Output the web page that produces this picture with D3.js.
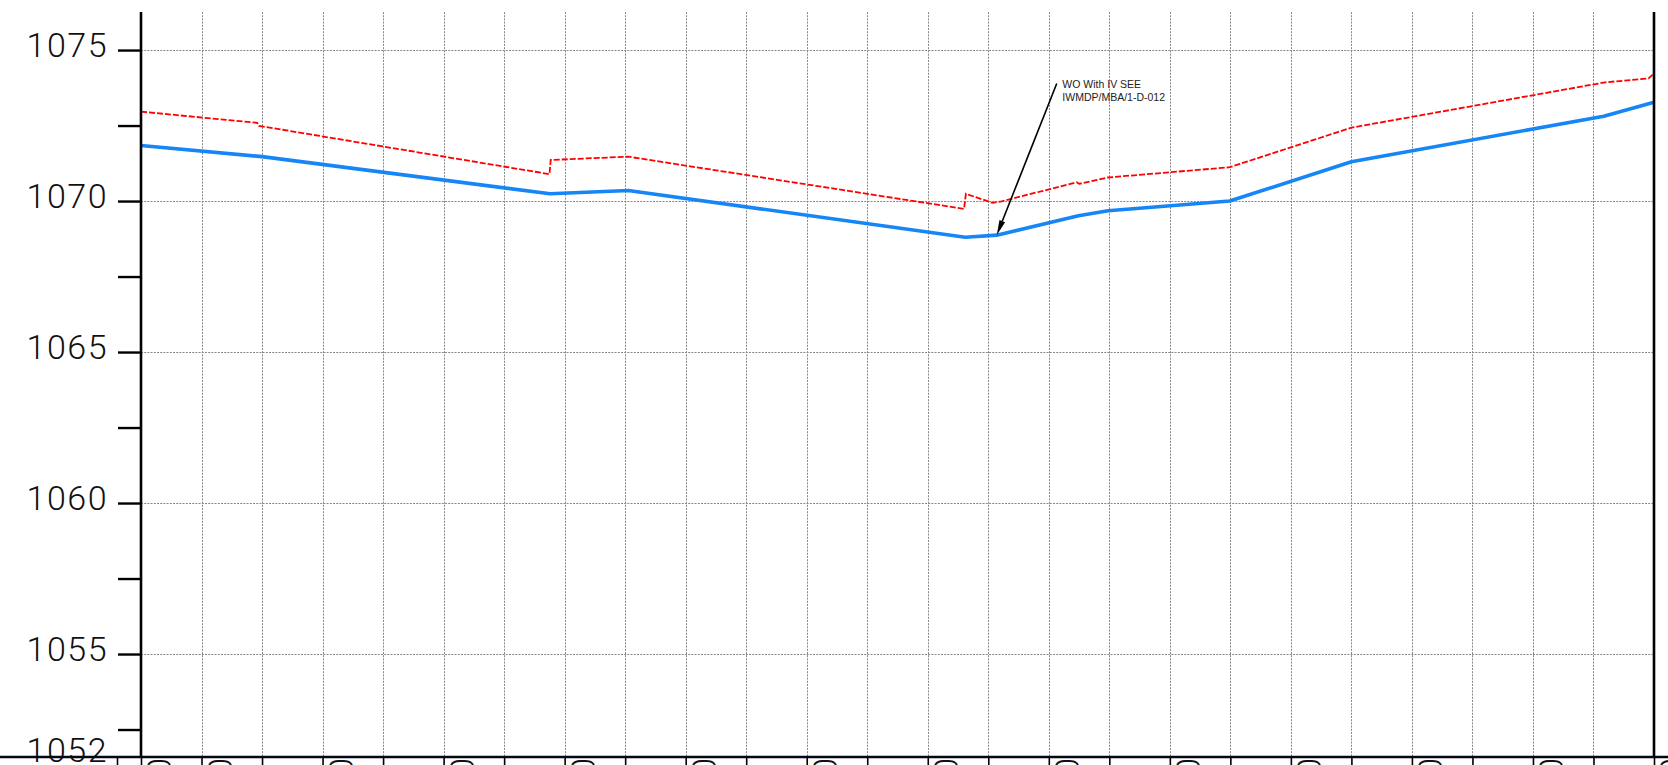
<!DOCTYPE html>
<html><head><meta charset="utf-8">
<script src="https://cdn.jsdelivr.net/npm/d3@7"></script>
<style>html,body{margin:0;padding:0;background:#fff;overflow:hidden}</style>
</head><body><svg id="chart" width="1668" height="765"></svg>
<script>
// ---- data ----
const redStations = [0, 1.92, 1.95, 6.75, 6.77, 8.05, 13.60, 13.63, 14.07, 14.22, 15.46, 15.50, 15.98, 17.99, 20.0, 24.19, 24.91, 25];
const redLevels   = [1072.96, 1072.59, 1072.49, 1070.89, 1071.36, 1071.47, 1069.74, 1070.24, 1069.94, 1069.99, 1070.62, 1070.57, 1070.78, 1071.12, 1072.43, 1073.93, 1074.06, 1074.22];
const blueStations = [0, 2, 6.76, 8.05, 13.62, 14.14, 15.49, 15.98, 17.99, 20, 24.17, 25];
const blueLevels   = [1071.84, 1071.47, 1070.24, 1070.35, 1068.80, 1068.87, 1069.51, 1069.68, 1070.00, 1071.30, 1072.81, 1073.27];
const majorTicks = [1075, 1070, 1065, 1060, 1055];
const minorTicks = [1072.5, 1067.5, 1062.5, 1057.5, 1052.5];
const yTickLabels = ["1075", "1070", "1065", "1060", "1055"];
const yMin = 1051.59, yMax = 1076.26;
const yMinLabel = "1052";
const gridStations = [0,1,2,3,4,5,6,7,8,9,10,11,12,13,14,15,16,17,18,19,20,21,22,23,24,25];
const labelStations = [0,1,3,5,7,9,11,13,15,17,19,21,23,25];
const stationLabels = ["0+000","0+020","0+060","0+100","0+140","0+180","0+220","0+260","0+300","0+340","0+380","0+420","0+460","0+500"];
const annStation = 14.14, annLevel = 1068.87;
const annLines = ["WO With IV SEE", "IWMDP/MBA/1-D-012"];

// ---- layout ----
const W = 1668, H = 765;
const mLeft = 141, mRight = 1654, mTop = 12, mBottom = 757;
const svg = d3.select("#chart");
svg.append("rect").attr("width", W).attr("height", H).attr("fill", "#fff");

const x = d3.scaleLinear().domain([0, 25]).range([mLeft, mRight]);
const y = d3.scaleLinear().domain([yMin, yMax]).range([mBottom, mTop]);

// grid
const grid = svg.append("g").attr("stroke", "#888").attr("stroke-width", 1).attr("stroke-dasharray", "2,1.2");
grid.selectAll("line.v").data(gridStations).join("line").attr("class", "v")
  .attr("x1", d => Math.round(x(d)) + 0.5).attr("x2", d => Math.round(x(d)) + 0.5)
  .attr("y1", mTop).attr("y2", mBottom);
grid.selectAll("line.h").data(majorTicks).join("line").attr("class", "h")
  .attr("x1", mLeft).attr("x2", mRight)
  .attr("y1", d => Math.round(y(d)) + 0.5).attr("y2", d => Math.round(y(d)) + 0.5);

// series
const line = d3.line().x(d => x(d[0])).y(d => y(d[1]));
const blue = blueStations.map((s, i) => [s, blueLevels[i]]);
const red = redStations.map((s, i) => [s, redLevels[i]]);
svg.append("path").datum(blue).attr("d", line).attr("fill", "none")
  .attr("stroke", "#1686f7").attr("stroke-width", 3.6).attr("stroke-linejoin", "round");
svg.append("path").datum(red).attr("d", line).attr("fill", "none")
  .attr("stroke", "#ff0000").attr("stroke-width", 1.8).attr("stroke-dasharray", "6,2");

// y-axis labels (drawn before frame lines)
const labelFont = "Roboto, 'Liberation Sans', Arial, sans-serif";
svg.append("g").selectAll("text").data(majorTicks).join("text")
  .attr("x", 108).attr("y", d => y(d) + 7)
  .attr("text-anchor", "end")
  .attr("font-family", labelFont).attr("font-weight", 300).attr("font-size", 34).attr("letter-spacing", "1.5px")
  .attr("fill", "#111")
  .text((d, i) => yTickLabels[i]);
svg.append("text").attr("x", 108).attr("y", y(yMin) + 5)
  .attr("text-anchor", "end")
  .attr("font-family", labelFont).attr("font-weight", 300).attr("font-size", 34).attr("letter-spacing", "1.5px")
  .attr("fill", "#111").text(yMinLabel);

// station labels (rotated, mostly below the picture, as in the reference)
svg.append("g").selectAll("text").data(labelStations).join("text")
  .attr("transform", d => `translate(${x(d) + 6},${mBottom + 1}) rotate(90)`)
  .attr("font-family", labelFont).attr("font-weight", 300).attr("font-size", 34).attr("fill", "#111")
  .text((d, i) => stationLabels[i]);

// y axis ticks
const yAxis = d3.axisLeft(y).tickValues(majorTicks.concat(minorTicks)).tickSize(23).tickFormat("");
const ya = svg.append("g").attr("transform", `translate(${mLeft},0)`).call(yAxis);
ya.select(".domain").remove();
ya.selectAll(".tick line").attr("stroke", "#000").attr("stroke-width", 2.4);

// x axis ticks (below frame)
const xAxis = d3.axisBottom(x).tickValues(gridStations).tickSize(10).tickFormat("");
const xa = svg.append("g").attr("transform", `translate(0,${mBottom})`).call(xAxis);
xa.select(".domain").remove();
xa.selectAll(".tick line").attr("stroke", "#000").attr("stroke-width", 1.6);
svg.append("line").attr("x1", 117.5).attr("x2", 117.5).attr("y1", mBottom).attr("y2", H)
  .attr("stroke", "#000").attr("stroke-width", 1.6);

// frame
svg.append("line").attr("x1", mLeft).attr("x2", mLeft).attr("y1", mTop).attr("y2", mBottom)
  .attr("stroke", "#000").attr("stroke-width", 2.6);
svg.append("line").attr("x1", mRight).attr("x2", mRight).attr("y1", mTop).attr("y2", mBottom)
  .attr("stroke", "#000").attr("stroke-width", 2.6);
svg.append("line").attr("x1", 0).attr("x2", W).attr("y1", mBottom).attr("y2", mBottom)
  .attr("stroke", "#050518").attr("stroke-width", 2.6);

// annotation
const tipX = x(annStation), tipY = y(annLevel);
const sx = tipX + 60, sy = tipY - 151.7;
const dx = tipX - sx, dy = tipY - sy, len = Math.hypot(dx, dy);
const ux = dx / len, uy = dy / len, px = -uy, py = ux;
const bx = tipX - 15 * ux, by = tipY - 15 * uy;
svg.append("line").attr("x1", sx).attr("y1", sy).attr("x2", bx).attr("y2", by)
  .attr("stroke", "#000").attr("stroke-width", 1.6);
svg.append("polygon")
  .attr("points", [[tipX, tipY], [bx + 3 * px, by + 3 * py], [bx - 3 * px, by - 3 * py]].map(p => p.join(",")).join(" "))
  .attr("fill", "#000");
svg.append("g").selectAll("text").data(annLines).join("text")
  .attr("x", sx + 5.6).attr("y", (d, i) => sy + 4.3 + i * 13.4)
  .attr("font-family", "'Liberation Sans', Arial, sans-serif").attr("font-size", 10.5)
  .attr("fill", "#222").text(d => d);
</script></body></html>
